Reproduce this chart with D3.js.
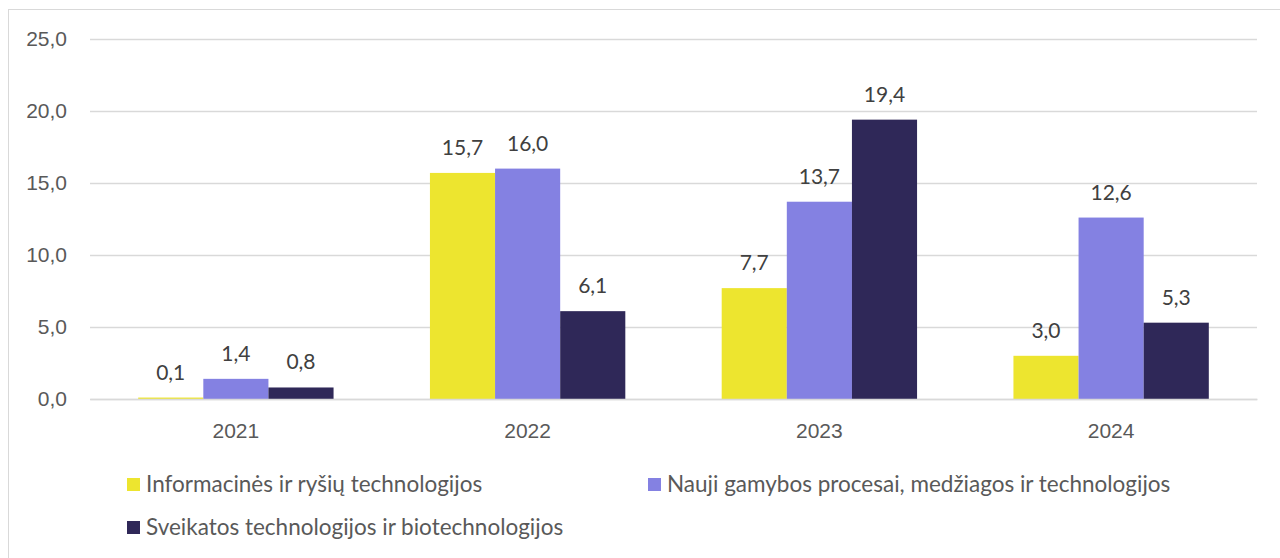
<!DOCTYPE html>
<html>
<head>
<meta charset="utf-8">
<script src="https://cdn.jsdelivr.net/npm/d3@7"></script>
<style>
  body { margin: 0; background: #fff; }
  svg { font-family: Lato, "Open Sans", sans-serif; }
</style>
</head>
<body>
<div id="canvas"></div>
<script>
const years = ["2021", "2022", "2023", "2024"];
const seriesNames = [
  "Informacinės ir ryšių technologijos",
  "Nauji gamybos procesai, medžiagos ir technologijos",
  "Sveikatos technologijos ir biotechnologijos"
];
const ictValues = [0.1, 15.7, 7.7, 3.0];
const manufValues = [1.4, 16.0, 13.7, 12.6];
const healthValues = [0.8, 6.1, 19.4, 5.3];
const yTicks = [0, 5, 10, 15, 20, 25];
const colors = ["#ede52f", "#8481e2", "#2f2858"];

const width = 1280, height = 558;
const margin = { top: 39, left: 90, bottom: 159, right: 23 };
const iwidth = width - margin.left - margin.right;
const iheight = height - margin.top - margin.bottom;
const fs = "21px";

const svg = d3.select("#canvas").append("svg")
  .attr("width", width).attr("height", height);

// outer frame
svg.append("rect")
  .attr("x", 8.5).attr("y", 9.5)
  .attr("width", 1290).attr("height", 600)
  .attr("fill", "none").attr("stroke", "#d9d9d9");

const g = svg.append("g").attr("transform", `translate(${margin.left},${margin.top})`);

const y = d3.scaleLinear().domain([0, 25]).range([iheight, 0]);
const x = d3.scaleBand().domain(years).range([0, iwidth]).paddingInner(0).paddingOuter(0);
const xs = d3.scaleBand().domain(d3.range(3)).range([0, x.bandwidth()]).paddingInner(0).paddingOuter(0.74);

const fmt = v => d3.format(".1f")(v).replace(".", ",");

// gridlines and y labels
const yAxis = g.append("g").attr("class", "y--axis")
  .call(d3.axisLeft(y).tickValues(yTicks).tickSize(-iwidth).tickFormat(fmt));
yAxis.select(".domain").remove();
yAxis.selectAll(".tick line").attr("stroke", "#d9d9d9").attr("stroke-width", 1.3);
yAxis.selectAll(".tick text")
  .attr("x", -23).attr("fill", "#595959")
  .style("font-size", fs);

const series = [ictValues, manufValues, healthValues];
const groups = g.selectAll(".grp").data(years).enter().append("g")
  .attr("transform", d => `translate(${x(d)},0)`);

groups.each(function(yr, i) {
  const gg = d3.select(this);
  series.forEach((vals, s) => {
    gg.append("rect")
      .attr("x", xs(s))
      .attr("y", y(vals[i]))
      .attr("width", xs.bandwidth())
      .attr("height", iheight - y(vals[i]))
      .attr("fill", colors[s]);
    gg.append("text")
      .attr("x", xs(s) + xs.bandwidth() / 2)
      .attr("y", y(vals[i]) - 18)
      .attr("text-anchor", "middle")
      .attr("fill", "#404040")
      .style("font-size", fs)
      .text(fmt(vals[i]));
  });
});

// x axis labels
const xAxis = g.append("g").attr("class", "x--axis")
  .attr("transform", `translate(0,${iheight})`)
  .call(d3.axisBottom(x).tickSize(0));
xAxis.select(".domain").attr("stroke", "#d9d9d9").attr("stroke-width", 1.3);
xAxis.selectAll(".tick text")
  .attr("y", 0).attr("dy", "39px").attr("fill", "#595959")
  .style("font-size", fs);

// legend
const legendPos = [[127, 478], [648, 478], [127, 521]];
const legend = svg.append("g");
seriesNames.forEach((name, i) => {
  const [lx, ly] = legendPos[i];
  legend.append("rect").attr("x", lx).attr("y", ly)
    .attr("width", 13).attr("height", 13).attr("fill", colors[i]);
  legend.append("text").attr("x", lx + 19).attr("y", ly + 14)
    .attr("fill", "#595959").style("font-size", "22.5px")
    .text(name);
});
</script>
</body>
</html>
